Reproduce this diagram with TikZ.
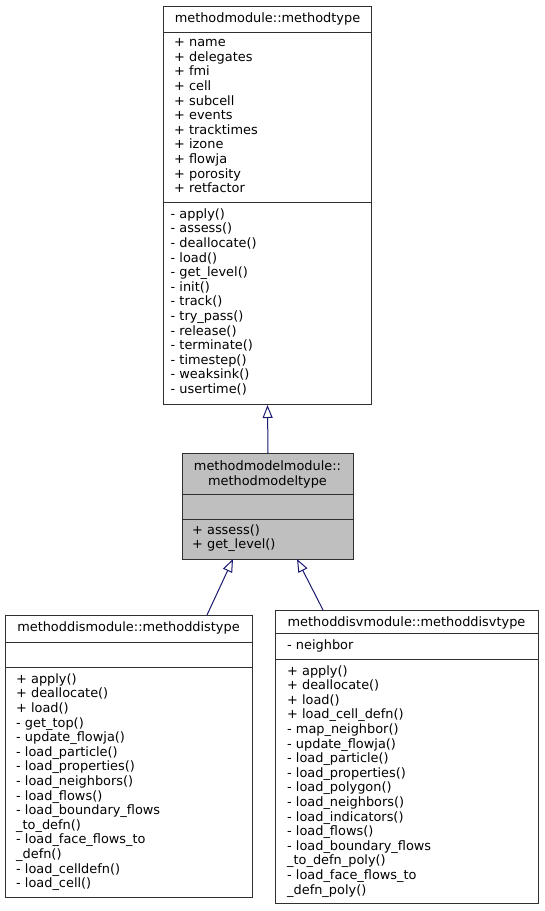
\documentclass[tikz,border=0pt]{standalone}
\usepackage{fontspec}
\setmainfont{DejaVu Sans}
\usetikzlibrary{arrows.meta}
\definecolor{edgeblue}{HTML}{191970}
\definecolor{boxgray}{HTML}{BFBFBF}
\definecolor{boxline}{HTML}{303030}
\begin{document}
\begin{tikzpicture}[x=1pt,y=-1pt,
  box/.style={draw=boxline, line width=1pt, inner sep=0pt, anchor=north west},
  sepline/.style={draw=boxline, line width=1pt},
  txt/.style={anchor=base west, inner sep=0pt, font=\fontsize{12.9}{14.6}\selectfont},
  ttl/.style={anchor=base, inner sep=0pt, font=\fontsize{12.9}{14.6}\selectfont},
  inh/.style={draw=edgeblue, line width=1pt, -{Triangle[open,length=13pt,width=10pt]}}]
\useasboundingbox (0,0) rectangle (544,911);
% top class
\node[box, minimum width=208pt, minimum height=398pt] (top) at (163,6) {};
\draw[sepline] (163,32) -- (371,32);
\draw[sepline] (163,202) -- (371,202);
\node[ttl] (topt) at (267.5,22) {methodmodule::methodtype};
\foreach \t [count=\i from 0] in {+ name,+ delegates,+ fmi,+ cell,+ subcell,+ events,+ tracktimes,+ izone,+ flowja,+ porosity,+ retfactor}
  \node[txt] (topa\i) at (174,46.7+14.6*\i) {\t};
\foreach \t [count=\i from 0] in {- apply(),- assess(),- deallocate(),- load(),- get\_level(),- init(),- track(),- try\_pass(),- release(),- terminate(),- timestep(),- weaksink(),- usertime()}
  \node[txt] (topm\i) at (170.5,218.3+14.6*\i) {\t};
% middle class
\node[box, fill=boxgray, minimum width=171pt, minimum height=106pt] (mid) at (182,453) {};
\draw[sepline] (182,494) -- (353,494);
\draw[sepline] (182,519) -- (353,519);
\node[ttl] (midt1) at (267.5,470) {methodmodelmodule::};
\node[ttl] (midt2) at (267.5,485) {methodmodeltype};
\node[txt] (midm0) at (192,534.3) {+ assess()};
\node[txt] (midm1) at (192,548.9) {+ get\_level()};
% left class
\node[box, minimum width=247pt, minimum height=282pt] (dis) at (5,615) {};
\draw[sepline] (5,642) -- (252,642);
\draw[sepline] (5,667) -- (252,667);
\node[ttl] (dist) at (128.5,631) {methoddismodule::methoddistype};
\foreach \t [count=\i from 0] in {+ apply(),+ deallocate(),+ load(),- get\_top(),- update\_flowja(),- load\_particle(),- load\_properties(),- load\_neighbors(),- load\_flows(),- load\_boundary\_flows,\_to\_defn(),- load\_face\_flows\_to,\_defn(),- load\_celldefn(),- load\_cell()}
  \node[txt] (dism\i) at (16,683.3+14.6*\i) {\t};
% right class
\node[box, minimum width=263pt, minimum height=293pt] (disv) at (275,610) {};
\draw[sepline] (275,633) -- (538,633);
\draw[sepline] (275,659) -- (538,659);
\node[ttl] (disvt) at (406.5,626.7) {methoddisvmodule::methoddisvtype};
\node[txt] (disva0) at (287,649.3) {- neighbor};
\foreach \t [count=\i from 0] in {+ apply(),+ deallocate(),+ load(),+ load\_cell\_defn(),- map\_neighbor(),- update\_flowja(),- load\_particle(),- load\_properties(),- load\_polygon(),- load\_neighbors(),- load\_indicators(),- load\_flows(),- load\_boundary\_flows,\_to\_defn\_poly(),- load\_face\_flows\_to,\_defn\_poly()}
  \node[txt] (disvm\i) at (287,675+14.6*\i) {\t};
% connectors
\coordinate (midbl) at (233,559);
\coordinate (midbr) at (297,559);
\coordinate (distop) at (207,615);
\coordinate (disvtop) at (323,610);
\draw[inh] (mid.north) -- (top.south);
\draw[inh] (distop) -- (midbl);
\draw[inh] (disvtop) -- (midbr);
\end{tikzpicture}
\end{document}
